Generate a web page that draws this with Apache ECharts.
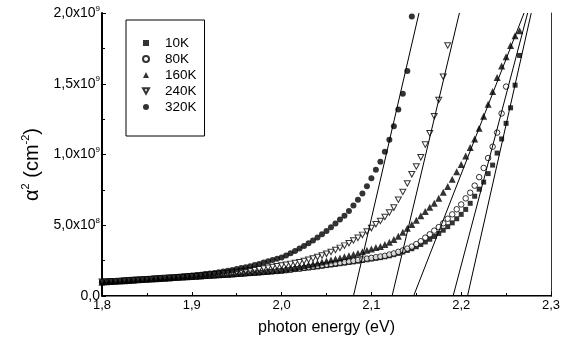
<!DOCTYPE html>
<html>
<head>
<meta charset="utf-8">
<script src="https://cdn.jsdelivr.net/npm/echarts@6/dist/echarts.min.js"></script>
<style>
  html, body { margin: 0; padding: 0; background: #fff; }
  #chart { width: 564px; height: 341px; }
</style>
</head>
<body>
<div id="chart"></div>
<script>
// Photon energy grid (eV)
const energy = [
  1.800, 1.805, 1.810, 1.815, 1.820, 1.825, 1.830, 1.835, 1.840, 1.845,
  1.850, 1.855, 1.860, 1.865, 1.870, 1.875, 1.880, 1.885, 1.890, 1.895,
  1.900, 1.905, 1.910, 1.915, 1.920, 1.925, 1.930, 1.935, 1.940, 1.945,
  1.950, 1.955, 1.960, 1.965, 1.970, 1.975, 1.980, 1.985, 1.990, 1.995,
  2.000, 2.005, 2.010, 2.015, 2.020, 2.025, 2.030, 2.035, 2.040, 2.045,
  2.050, 2.055, 2.060, 2.065, 2.070, 2.075, 2.080, 2.085, 2.090, 2.095,
  2.100, 2.105, 2.110, 2.115, 2.120, 2.125, 2.130, 2.135, 2.140, 2.145,
  2.150, 2.155, 2.160, 2.165, 2.170, 2.175, 2.180, 2.185, 2.190, 2.195,
  2.200, 2.205, 2.210, 2.215, 2.220, 2.225, 2.230, 2.235, 2.240, 2.245,
  2.250, 2.255, 2.260, 2.265
];

// alpha^2 in units of 1e9 cm^-2, one list per temperature
const alpha2_10K = [
  0.095, 0.097, 0.099, 0.101, 0.103, 0.105, 0.107, 0.109, 0.111, 0.113,
  0.115, 0.117, 0.119, 0.121, 0.123, 0.125, 0.127, 0.128, 0.130, 0.132,
  0.134, 0.136, 0.138, 0.140, 0.142, 0.144, 0.146, 0.148, 0.150, 0.152,
  0.154, 0.156, 0.158, 0.160, 0.162, 0.164, 0.166, 0.168, 0.171, 0.173,
  0.175, 0.179, 0.183, 0.187, 0.190, 0.194, 0.198, 0.202, 0.206, 0.210,
  0.215, 0.219, 0.223, 0.228, 0.232, 0.237, 0.241, 0.246, 0.251, 0.256,
  0.261, 0.266, 0.271, 0.277, 0.284, 0.292, 0.301, 0.311, 0.322, 0.334,
  0.348, 0.364, 0.382, 0.401, 0.421, 0.442, 0.465, 0.490, 0.517, 0.546,
  0.577, 0.612, 0.655, 0.705, 0.755, 0.805, 0.865, 0.925, 1.010, 1.110,
  1.220, 1.330, 1.490, 1.700
];
const alpha2_80K = [
  0.097, 0.099, 0.101, 0.103, 0.105, 0.107, 0.109, 0.111, 0.113, 0.115,
  0.117, 0.119, 0.121, 0.123, 0.125, 0.127, 0.129, 0.131, 0.133, 0.134,
  0.136, 0.138, 0.140, 0.142, 0.144, 0.146, 0.148, 0.150, 0.152, 0.154,
  0.156, 0.158, 0.160, 0.162, 0.164, 0.167, 0.169, 0.171, 0.174, 0.176,
  0.179, 0.183, 0.187, 0.191, 0.195, 0.199, 0.204, 0.208, 0.213, 0.217,
  0.222, 0.226, 0.231, 0.235, 0.240, 0.244, 0.249, 0.254, 0.259, 0.264,
  0.269, 0.274, 0.279, 0.284, 0.293, 0.301, 0.312, 0.322, 0.335, 0.349,
  0.367, 0.387, 0.412, 0.436, 0.462, 0.487, 0.514, 0.546, 0.577, 0.613,
  0.647, 0.690, 0.730, 0.780, 0.840, 0.905, 0.975, 1.055, 1.155, 1.290,
  1.480
];
const alpha2_160K = [
  0.098, 0.100, 0.102, 0.104, 0.106, 0.108, 0.110, 0.112, 0.114, 0.116,
  0.118, 0.120, 0.122, 0.124, 0.126, 0.128, 0.130, 0.132, 0.134, 0.136,
  0.138, 0.140, 0.142, 0.144, 0.146, 0.148, 0.150, 0.152, 0.154, 0.156,
  0.159, 0.161, 0.164, 0.166, 0.169, 0.172, 0.175, 0.178, 0.181, 0.184,
  0.187, 0.192, 0.197, 0.202, 0.208, 0.214, 0.220, 0.226, 0.233, 0.240,
  0.247, 0.254, 0.261, 0.269, 0.277, 0.285, 0.294, 0.303, 0.313, 0.323,
  0.333, 0.343, 0.350, 0.364, 0.380, 0.400, 0.422, 0.450, 0.478, 0.505,
  0.535, 0.568, 0.598, 0.627, 0.656, 0.690, 0.733, 0.773, 0.825, 0.878,
  0.930, 0.990, 1.050, 1.110, 1.185, 1.270, 1.355, 1.445, 1.545, 1.625,
  1.690, 1.770, 1.840, 1.875
];
const alpha2_240K = [
  0.100, 0.102, 0.104, 0.105, 0.107, 0.109, 0.111, 0.113, 0.115, 0.117,
  0.119, 0.121, 0.123, 0.125, 0.127, 0.129, 0.131, 0.133, 0.135, 0.138,
  0.140, 0.142, 0.145, 0.148, 0.151, 0.154, 0.157, 0.160, 0.163, 0.166,
  0.169, 0.173, 0.177, 0.181, 0.185, 0.190, 0.195, 0.200, 0.205, 0.210,
  0.216, 0.221, 0.227, 0.233, 0.239, 0.247, 0.256, 0.265, 0.275, 0.286,
  0.298, 0.311, 0.325, 0.340, 0.356, 0.373, 0.392, 0.411, 0.432, 0.456,
  0.480, 0.507, 0.530, 0.558, 0.590, 0.625, 0.680, 0.735, 0.795, 0.860,
  0.915, 0.980, 1.070, 1.150, 1.270, 1.385, 1.550, 1.770
];
const alpha2_320K = [
  0.100, 0.102, 0.104, 0.106, 0.108, 0.110, 0.112, 0.114, 0.116, 0.118,
  0.120, 0.122, 0.124, 0.126, 0.128, 0.131, 0.133, 0.136, 0.139, 0.141,
  0.144, 0.148, 0.151, 0.155, 0.159, 0.163, 0.168, 0.173, 0.178, 0.184,
  0.190, 0.197, 0.204, 0.211, 0.219, 0.227, 0.236, 0.245, 0.254, 0.263,
  0.272, 0.287, 0.302, 0.318, 0.335, 0.353, 0.372, 0.392, 0.413, 0.436,
  0.460, 0.486, 0.513, 0.540, 0.568, 0.600, 0.640, 0.680, 0.724, 0.775,
  0.833, 0.893, 0.948, 1.020, 1.105, 1.200, 1.318, 1.430, 1.590, 1.975
];

const temperatures = ['10K', '80K', '160K', '240K', '320K'];
const seriesValues = [alpha2_10K, alpha2_80K, alpha2_160K, alpha2_240K, alpha2_320K];

// Linear fits of the absorption edge: energy where alpha^2 = 0 and where alpha^2 = 2.0e9
const fitZeroEnergy = [2.207, 2.191, 2.147, 2.123, 2.080];
const fitTopEnergy  = [2.278, 2.274, 2.270, 2.198, 2.153];
const fitTopValue = 2.0;

// Axis ticks
const xTickValues = [1.8, 1.9, 2.0, 2.1, 2.2, 2.3];
const yTickMantissa = ['0,0', '5,0x10', '1,0x10', '1,5x10', '2,0x10'];
const yTickExponent = ['', '8', '9', '9', '9'];

const FONT = 'Arial, "Liberation Sans", Helvetica, sans-serif';

const markerStyles = [
  { symbol: 'rect', symbolSize: 5, itemStyle: { color: '#000' } },
  { symbol: 'circle', symbolSize: 5.5, itemStyle: { color: '#fff', borderColor: '#000', borderWidth: 1 } },
  { symbol: 'triangle', symbolSize: 7, itemStyle: { color: '#000' } },
  { symbol: 'path://M0,0 L10,0 L5,9 Z', symbolSize: [6, 5.5], itemStyle: { color: '#fff', borderColor: '#000', borderWidth: 1 } },
  { symbol: 'circle', symbolSize: 6, itemStyle: { color: '#000' } }
];

const series = [];
temperatures.forEach(function (name, k) {
  const vals = seriesValues[k];
  series.push(Object.assign({
    name: name,
    type: 'scatter',
    data: vals.map(function (v, i) { return [energy[i], v]; }),
    silent: true,
    z: 3
  }, markerStyles[k]));
});
temperatures.forEach(function (name, k) {
  series.push({
    type: 'line',
    data: [[fitZeroEnergy[k], 0], [fitTopEnergy[k], fitTopValue]],
    symbol: 'none',
    silent: true,
    lineStyle: { color: '#000', width: 1 },
    z: 4
  });
});

const chart = echarts.init(document.getElementById('chart'), null, { renderer: 'canvas' });
chart.setOption({
  animation: false,
  backgroundColor: '#fff',
  textStyle: { fontFamily: FONT },
  grid: { left: 102, right: 13, top: 13, bottom: 38 },
  legend: {
    data: temperatures,
    orient: 'vertical',
    left: 126,
    top: 20,
    padding: [16, 8, 22, 16],
    itemWidth: 6,
    itemHeight: 6,
    itemGap: 2,
    borderColor: '#000',
    borderWidth: 1,
    borderRadius: 0,
    selectedMode: false,
    textStyle: { fontSize: 13.5, color: '#000', fontFamily: FONT, padding: [0, 0, 0, 11] }
  },
  xAxis: [{
    type: 'value',
    min: 1.8,
    max: 2.3,
    interval: 0.1,
    name: 'photon energy (eV)',
    nameLocation: 'middle',
    nameGap: 24,
    nameTextStyle: { fontSize: 16, color: '#000', fontFamily: FONT },
    axisLine: { lineStyle: { color: '#000', width: 2 } },
    axisTick: { inside: true, length: 4, lineStyle: { color: '#000' } },
    minorTick: { show: true, splitNumber: 2, length: 3, lineStyle: { color: '#000' } },
    splitLine: { show: false },
    axisLabel: {
      margin: 3,
      fontSize: 13,
      color: '#000',
      fontFamily: FONT,
      formatter: function (v) {
        const t = xTickValues.find(function (x) { return Math.abs(x - v) < 1e-6; });
        return t === undefined ? '' : t.toFixed(1).replace('.', ',');
      }
    }
  }, {
    type: 'value',
    position: 'top',
    min: 1.8,
    max: 2.3,
    axisLine: { show: true, lineStyle: { color: '#7a7a7a', width: 1 } },
    axisTick: { show: false },
    axisLabel: { show: false },
    splitLine: { show: false }
  }],
  yAxis: [{
    type: 'value',
    min: 0,
    max: 2.0,
    interval: 0.5,
    name: '{b|α}{s|2}{b| (cm}{s|-2}{b|)}',
    nameLocation: 'middle',
    nameRotate: 90,
    nameGap: 58,
    nameTextStyle: {
      color: '#000',
      padding: [0, 20, 0, 0],
      rich: {
        b: { fontSize: 20, lineHeight: 24, fontFamily: FONT, color: '#000' },
        s: { fontSize: 11, lineHeight: 13, verticalAlign: 'top', fontFamily: FONT, color: '#000' }
      }
    },
    axisLine: { show: true, lineStyle: { color: '#000', width: 2 } },
    axisTick: { inside: true, length: 4, lineStyle: { color: '#000' } },
    minorTick: { show: true, splitNumber: 2, length: 3, lineStyle: { color: '#000' } },
    splitLine: { show: false },
    axisLabel: {
      margin: 2,
      color: '#000',
      formatter: function (v) {
        const i = Math.round(v / 0.5);
        const m = yTickMantissa[i];
        const e = yTickExponent[i];
        return e ? '{b|' + m + '}{s|' + e + '}' : '{b|' + m + '}';
      },
      rich: {
        b: { fontSize: 14, lineHeight: 17, fontFamily: FONT, color: '#000' },
        s: { fontSize: 8, lineHeight: 9, verticalAlign: 'top', fontFamily: FONT, color: '#000' }
      }
    }
  }, {
    type: 'value',
    position: 'right',
    min: 0,
    max: 2.0,
    axisLine: { show: true, lineStyle: { color: '#333', width: 1 } },
    axisTick: { show: false },
    axisLabel: { show: false },
    splitLine: { show: false }
  }],
  series: series
});
</script>
</body>
</html>
